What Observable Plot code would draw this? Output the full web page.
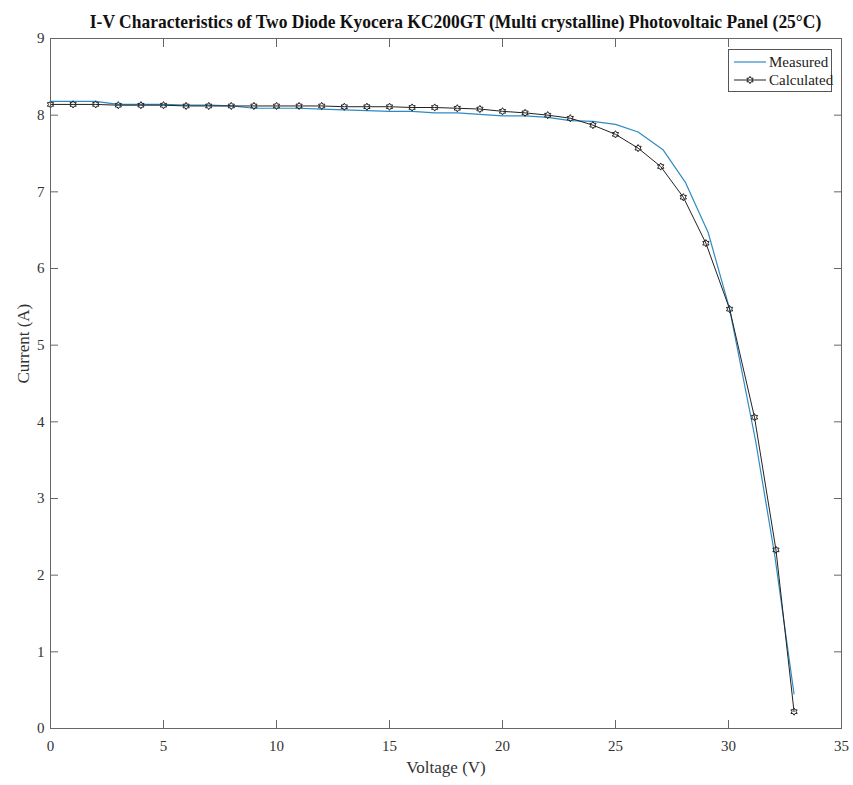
<!DOCTYPE html>
<html><head><meta charset="utf-8">
<script src="https://cdn.jsdelivr.net/npm/d3@7"></script>
<script src="https://cdn.jsdelivr.net/npm/@observablehq/plot@0.6"></script>
<style>
body{margin:0;background:#fff;font-family:"Liberation Serif","Times New Roman",serif;}
#wrap{position:relative;width:853px;height:785px;overflow:hidden;}
#title{position:absolute;left:58px;right:0;top:11px;text-align:center;font-weight:bold;font-size:19px;line-height:21px;color:#111;white-space:nowrap;}
#title span{display:inline-block;transform:scaleX(0.92);transform-origin:center;}
#spacer{height:30px;}
#legend{position:absolute;left:728px;top:49px;width:102px;height:41px;border:1px solid #555;background:#fff;font-size:15px;color:#222;}
.row{position:absolute;left:4px;height:18px;display:flex;align-items:center;}
.row span{margin-left:2px;}
</style></head>
<body>
<div id="wrap">
  <div id="spacer"></div>
  <div id="chart"></div>
  <div id="title"><span>I-V Characteristics of Two Diode Kyocera KC200GT (Multi crystalline) Photovoltaic Panel (25°C)</span></div>
  <div id="legend"></div>
</div>
<script>
// Measured curve (blue)
const measV = [0,1,2,3,4,5,6,7,8,9,10,11,12,13,14,15,16,17,18,19,20,21,22,23,24,25,26,27.1,28.1,29.1,30.05,31.2,32.05,32.9];
const measI = [8.18,8.18,8.18,8.14,8.14,8.14,8.13,8.13,8.12,8.09,8.09,8.09,8.08,8.07,8.06,8.05,8.05,8.03,8.03,8.01,7.99,7.99,7.97,7.93,7.92,7.88,7.78,7.55,7.12,6.47,5.47,3.75,2.25,0.45];
// Calculated curve (black, hexagram markers)
const calcV = [0,1,2,3,4,5,6,7,8,9,10,11,12,13,14,15,16,17,18,19,20,21,22,23,24,25,26,27,28,29,30.05,31.15,32.1,32.9];
const calcI = [8.14,8.14,8.14,8.13,8.13,8.13,8.12,8.12,8.12,8.12,8.12,8.12,8.12,8.11,8.11,8.11,8.10,8.10,8.09,8.08,8.05,8.03,8.00,7.96,7.87,7.75,7.57,7.33,6.93,6.33,5.47,4.06,2.33,0.22];
const xTicks = [0,5,10,15,20,25,30,35];
const yTicks = [0,1,2,3,4,5,6,7,8,9];

const measured = measV.map((v,k)=>({v, i: measI[k]}));
const calculated = calcV.map((v,k)=>({v, i: calcI[k]}));

const hexagram = {
  draw(context, size) {
    const R = Math.sqrt(size / Math.PI), r = R / Math.sqrt(3);
    for (let k = 0; k < 12; ++k) {
      const a = -Math.PI/2 + k*Math.PI/6, rr = k % 2 ? r : R;
      const px = rr*Math.cos(a), py = rr*Math.sin(a);
      if (k === 0) context.moveTo(px, py); else context.lineTo(px, py);
    }
    context.closePath();
  }
};

const blue = "#2f8ac4", black = "#222";
const chart = Plot.plot({
  width: 853, height: 755,
  marginTop: 8, marginBottom: 57, marginLeft: 50, marginRight: 12,
  style: {fontFamily: "Liberation Serif, serif", fontSize: "15px", background: "#fff", color: "#333"},
  x: {domain: [0, 35]},
  y: {domain: [0, 9]},
  marks: [
    Plot.line(measured, {x: "v", y: "i", stroke: blue, strokeWidth: 1.2}),
    Plot.line(calculated, {x: "v", y: "i", stroke: black, strokeWidth: 1}),
    Plot.dot(calculated, {x: "v", y: "i", symbol: hexagram, r: 3.6, stroke: black, fill: "none", strokeWidth: 1}),
    Plot.frame({stroke: "#666"}),
    Plot.axisX({ticks: xTicks, tickSize: -8, tickPadding: 20, label: null, stroke: "#666", fill: "#333"}),
    Plot.axisX({anchor: "top", ticks: xTicks, tickSize: -8, tickFormat: () => "", label: null, stroke: "#666"}),
    Plot.axisY({ticks: yTicks, tickSize: -8, tickPadding: 14, label: null, stroke: "#666", fill: "#333"}),
    Plot.axisY({anchor: "right", ticks: yTicks, tickSize: -8, tickFormat: () => "", label: null, stroke: "#666"}),
    Plot.text(["Voltage (V)"], {frameAnchor: "bottom", dy: 44, fontSize: 17, fill: "#333"}),
    Plot.text(["Current (A)"], {frameAnchor: "left", dx: -27, rotate: -90, fontSize: 17, fill: "#333"})
  ]
});
document.getElementById("chart").appendChild(chart);

// Legend
const sym = d3.symbol(hexagram, 3.6*3.6*Math.PI)();
const leg = document.getElementById("legend");
leg.innerHTML = `
<div class="row" style="top:3px"><svg width="34" height="18"><line x1="1" y1="9" x2="33" y2="9" stroke="${blue}" stroke-width="1.2"/></svg><span>Measured</span></div>
<div class="row" style="top:21px"><svg width="34" height="18"><line x1="1" y1="9" x2="33" y2="9" stroke="${black}" stroke-width="1"/><path d="${sym}" transform="translate(17,9)" fill="none" stroke="${black}"/></svg><span>Calculated</span></div>`;
</script>
</body></html>
